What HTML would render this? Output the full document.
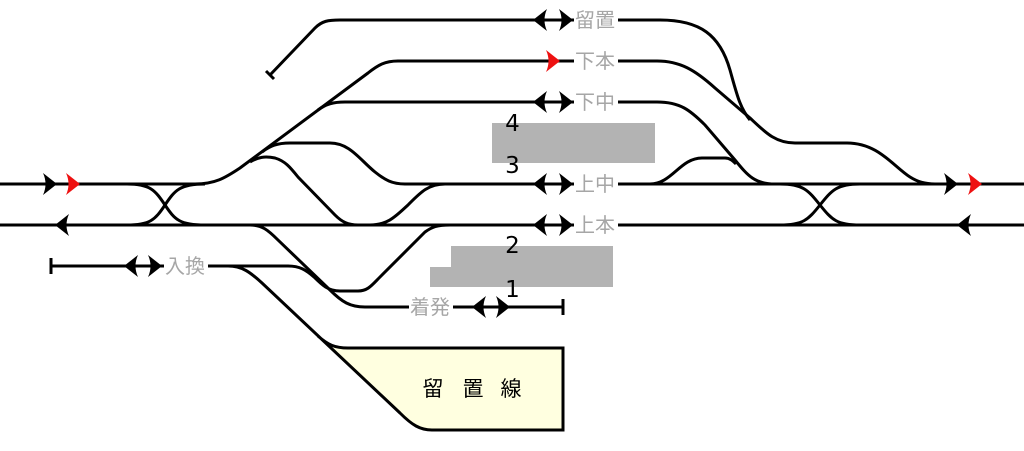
<!DOCTYPE html>
<html><head><meta charset="utf-8"><style>
html,body{margin:0;padding:0;background:#fff;}
svg{display:block;}
.t{fill:none;stroke:#000;stroke-width:3;}
.lbl{font-family:"Liberation Sans","Noto Sans CJK JP",sans-serif;font-size:20px;fill:#a6a6a6;}
.num{font-family:"DejaVu Sans","Liberation Sans",sans-serif;font-size:23px;fill:#000;}
.big{font-family:"Liberation Sans","Noto Sans CJK JP",sans-serif;font-size:21px;fill:#000;}
</style></head><body>
<svg width="1024" height="451" viewBox="0 0 1024 451" xmlns="http://www.w3.org/2000/svg">
<defs>
<path id="ah" d="M0,0 L-14,-11 Q-9,0 -14,11 Z"/>
</defs>

<!-- platforms -->
<rect x="492" y="123" width="163" height="40" fill="#b3b3b3"/>
<path d="M451,246 L613,246 L613,287 L430,287 L430,267 L451,267 Z" fill="#b3b3b3"/>

<!-- yard fill -->
<path d="M318,336 C328,345 335,348 348,348 L563,348 L563,430 L432,430 C420,430 412,425 400,413 Z" fill="#ffffe0"/>

<!-- main lines -->
<path class="t" d="M0,184 L195,184 C215,184 225,178 240,168 L368,73 C378,65 385,61 398,61 L657,61"/>
<path class="t" d="M0,225 L1024,225"/>
<!-- left crossover -->
<path class="t" d="M127,184 C150,184 155,190 165,205 C175,220 180,225 205,225"/>
<path class="t" d="M127,225 C150,225 155,220 165,205 C175,190 180,184 205,184"/>

<!-- 留置 upper siding -->
<path class="t" d="M270,75 L315,28 C322,21 328,20 340,20 L660,20 C700,20 720,35 730,70 C737,95 740,108 750,120"/>
<path class="t" d="M266,71 L274,79"/>

<!-- 下中 -->
<path class="t" d="M318,110 C326,104 333,102 345,102 L657,102 C680,102 690,110 705,125 L735,160 C748,176 755,184 775,184"/>

<!-- y=143 loop to 上中 -->
<path class="t" d="M262,152 C270,146 277,143 290,143 L330,143 C350,143 360,160 375,172 C385,180 392,184 405,184 L1024,184"/>

<!-- descending branch from junction to 上本 -->
<path class="t" d="M250,162 C258,157 265,156 275,158 C285,161 290,167 298,177 L335,215 C342,222 348,225 358,225"/>
<!-- rising from 上本 to 上中 -->
<path class="t" d="M370,225 C388,225 396,216 408,205 C420,193 428,184 445,184"/>

<!-- right side 下本 -->
<path class="t" d="M657,61 C680,61 695,70 715,88 L750,118 C765,132 775,143 795,143 L847,143 C878,143 893,166 910,177 C918,182 925,184 935,184"/>
<!-- 上中 bump -->
<path class="t" d="M650,184 C672,184 680,158 702,158 L725,158 C730,158 733,161 736,164"/>
<!-- right crossover -->
<path class="t" d="M780,184 C803,184 808,190 820,205 C832,220 837,225 860,225"/>
<path class="t" d="M780,225 C803,225 808,220 820,205 C832,190 837,184 860,184"/>

<!-- 上本 to 着発 -->
<path class="t" d="M250,225 C262,225 268,230 278,240 L330,290 C342,302 350,307 365,307 L563,307"/>
<path class="t" d="M563,299 L563,315"/>

<!-- 入換 line and U to 上本 -->
<path class="t" d="M51,266 L288,266 C300,266 306,270 314,277 C322,285 328,291 340,291 L358,291 C368,291 372,285 380,277 L425,232 C432,227 437,225 450,225"/>
<path class="t" d="M51,258 L51,274"/>

<!-- 留置線 branch -->
<path class="t" d="M228,266 C242,266 250,272 262,283 L400,413 C412,425 420,430 432,430 L563,430 L563,348 L348,348 C335,348 328,345 318,336"/>

<!-- label backgrounds -->
<rect x="574" y="9" width="44" height="22" fill="#fff"/>
<rect x="574" y="50" width="44" height="22" fill="#fff"/>
<rect x="574" y="91" width="44" height="22" fill="#fff"/>
<rect x="574" y="173" width="44" height="22" fill="#fff"/>
<rect x="574" y="214" width="44" height="22" fill="#fff"/>
<rect x="164" y="255" width="44" height="22" fill="#fff"/>
<rect x="409" y="296" width="44" height="22" fill="#fff"/>

<!-- labels -->
<text class="lbl" x="575" y="27">留置</text>
<text class="lbl" x="575" y="68">下本</text>
<text class="lbl" x="575" y="109">下中</text>
<text class="lbl" x="575" y="191">上中</text>
<text class="lbl" x="575" y="232">上本</text>
<text class="lbl" x="165" y="273">入換</text>
<text class="lbl" x="410" y="314">着発</text>

<text class="num" x="512.5" y="131" text-anchor="middle">4</text>
<text class="num" x="512.5" y="173" text-anchor="middle">3</text>
<text class="num" x="512.5" y="253" text-anchor="middle">2</text>
<text class="num" x="512.5" y="297" text-anchor="middle">1</text>

<text class="big" x="433" y="396" text-anchor="middle">留</text>
<text class="big" x="473" y="396" text-anchor="middle">置</text>
<text class="big" x="511" y="396" text-anchor="middle">線</text>

<!-- double arrows -->
<g fill="#000">
<use href="#ah" transform="translate(533,20) scale(-1,1)"/><use href="#ah" transform="translate(573,20)"/>
<use href="#ah" transform="translate(533,102) scale(-1,1)"/><use href="#ah" transform="translate(573,102)"/>
<use href="#ah" transform="translate(533,184) scale(-1,1)"/><use href="#ah" transform="translate(573,184)"/>
<use href="#ah" transform="translate(533,225) scale(-1,1)"/><use href="#ah" transform="translate(573,225)"/>
<use href="#ah" transform="translate(124,266) scale(-1,1)"/><use href="#ah" transform="translate(162,266)"/>
<use href="#ah" transform="translate(472,307) scale(-1,1)"/><use href="#ah" transform="translate(510,307)"/>
<!-- main line arrows -->
<use href="#ah" transform="translate(57,184)"/>
<use href="#ah" transform="translate(55,225) scale(-1,1)"/>
<use href="#ah" transform="translate(958,184)"/>
<use href="#ah" transform="translate(957,225) scale(-1,1)"/>
</g>
<g fill="#ee1111">
<use href="#ah" transform="translate(80,184)"/>
<use href="#ah" transform="translate(982,184)"/>
<use href="#ah" transform="translate(560,61)"/>
</g>
</svg>
</body></html>
